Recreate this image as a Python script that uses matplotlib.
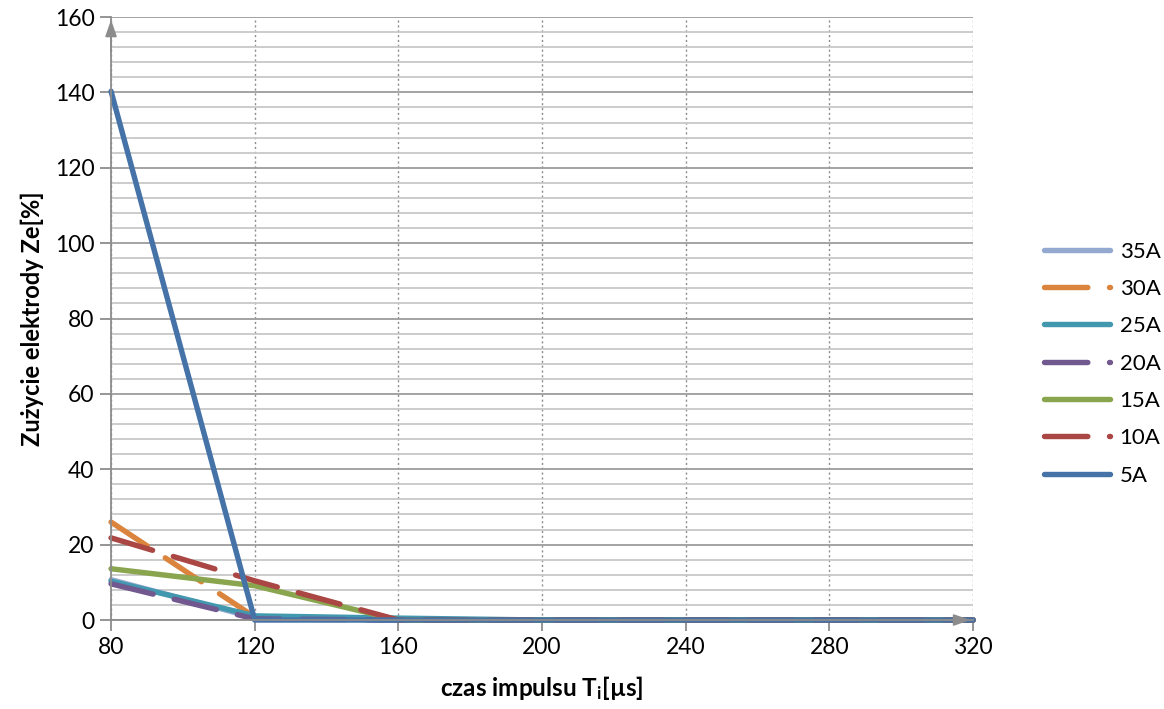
import matplotlib
matplotlib.use('Agg')
import matplotlib.pyplot as plt
from matplotlib.ticker import MultipleLocator

plt.rcParams['font.family'] = ['Lato', 'DejaVu Sans']
plt.rcParams['mathtext.fontset'] = 'custom'
plt.rcParams['mathtext.rm'] = 'Lato'
plt.rcParams['mathtext.bf'] = 'Lato:bold'

x = [80, 120, 160, 200, 240, 280, 320]
series = ['35A', '30A', '25A', '20A', '15A', '10A', '5A']
values = {
    '35A': [10.7, 0.6, 0.0, 0.0, 0.0, 0.0, 0.0],
    '30A': [26.0, 0.8, 0.0, 0.0, 0.0, 0.0, 0.0],
    '25A': [10.3, 1.1, 0.5, 0.0, 0.0, 0.0, 0.0],
    '20A': [9.6, 0.3, 0.0, 0.0, 0.0, 0.0, 0.0],
    '15A': [13.6, 9.1, 0.0, 0.0, 0.0, 0.0, 0.0],
    '10A': [21.8, 10.4, 0.0, 0.0, 0.0, 0.0, 0.0],
    '5A':  [140.3, 0.0, 0.0, 0.0, 0.0, 0.0, 0.0],
}
colors = {
    '5A': '#4572A7', '10A': '#AA4643', '15A': '#89A54E', '20A': '#71588F',
    '25A': '#4198AF', '30A': '#DB843D', '35A': '#93A9CF',
}
dashed = {'10A', '20A', '30A'}

fig = plt.figure(figsize=(11.64, 7.09), dpi=100)
ax = fig.add_axes([0.0954, 0.1255, 0.7406, 0.8505])

ax.set_xlim(80, 320)
ax.set_ylim(0, 160)
ax.xaxis.set_major_locator(MultipleLocator(40))
ax.yaxis.set_major_locator(MultipleLocator(20))
ax.yaxis.set_minor_locator(MultipleLocator(4))

ax.grid(which='minor', axis='y', color='#C8C8C8', lw=1.3)
ax.grid(which='major', axis='y', color='#9C9C9C', lw=1.3)
ax.grid(which='major', axis='x', color='#8C8C8C', lw=1.0, ls=(0, (1.5, 2)))
ax.set_axisbelow(True)

for s in ['top', 'right']:
    ax.spines[s].set_visible(False)
for s in ['left', 'bottom']:
    ax.spines[s].set_color('#8C8C8C')
    ax.spines[s].set_linewidth(1.3)

ax.tick_params(which='major', length=8, width=1.3, color='#8C8C8C',
               labelsize=16.5, pad=4)
ax.tick_params(which='minor', length=0)

handles = []
for name in series:
    kw = dict(color=colors[name], lw=3.9, solid_capstyle='round',
              label=name, clip_on=False)
    if name in dashed:
        kw.update(ls=(0, (8, 4)), dash_capstyle='round')
    handles.append(ax.plot(x, values[name], **kw)[0])

# axis arrows
ax.annotate('', xy=(80, 160), xytext=(80, 150),
            arrowprops=dict(arrowstyle='-|>,head_length=1.0,head_width=0.35',
                            color='#8C8C8C', lw=1.3), annotation_clip=False)
ax.annotate('', xy=(320, 0), xytext=(305, 0),
            arrowprops=dict(arrowstyle='-|>,head_length=1.0,head_width=0.35',
                            color='#8C8C8C', lw=1.3), annotation_clip=False)

ax.set_ylabel('Zużycie elektrody Ze[%]', fontsize=17, fontweight='bold',
              labelpad=8)
ax.set_xlabel(r'czas impulsu $\mathbf{T_i}$[µs]', fontsize=17.5,
              fontweight='bold', labelpad=12)

fig.legend(handles, series, loc='upper left',
           bbox_to_anchor=(1028 / 1164, 1 - 226 / 709),
           frameon=False, fontsize=16, handlelength=2.97,
           labelspacing=0.78, handletextpad=0.45, borderpad=0.2)

fig.savefig('out.png', dpi=100)
